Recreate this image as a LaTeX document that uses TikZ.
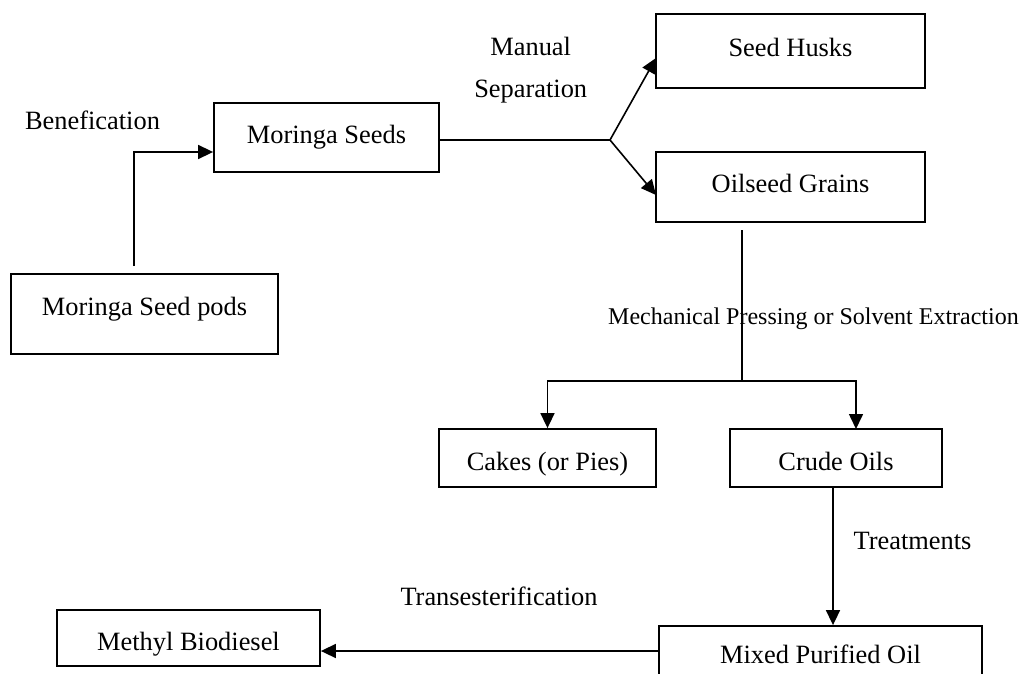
\documentclass[tikz,border=0pt]{standalone}
\usepackage{fontspec}
\setmainfont{Liberation Serif}
\usetikzlibrary{arrows.meta}
\begin{document}
\begin{tikzpicture}[x=1pt,y=-1pt,
  box/.style={draw, line width=1.8pt, inner sep=0pt, text height=18pt, text depth=6pt,
              font=\fontsize{26.4}{30}\selectfont},
  lowtext/.style={text height=30pt, text depth=6pt},
  hightext/.style={text height=18pt, text depth=16pt},
  lbl/.style={inner sep=0pt, anchor=base, font=\fontsize{26.4}{30}\selectfont},
  conn/.style={line width=1.6pt},
  arr/.style={conn, -{Triangle[length=15pt,width=14pt]}}]
\useasboundingbox (0,0) rectangle (1020,674);
\clip (0,0) rectangle (1020,674);

% boxes
\node[box, hightext, minimum width=267pt, minimum height=80pt] (pods) at (144.5,314) {Moringa Seed pods};
\node[box, minimum width=225pt, minimum height=69pt] (seeds) at (326.5,137.5) {Moringa Seeds};
\node[box, minimum width=269pt, minimum height=74pt] (husks) at (790.5,51) {Seed Husks};
\node[box, minimum width=269pt, minimum height=70pt] (grains) at (790.5,187) {Oilseed Grains};
\node[box, lowtext, minimum width=217pt, minimum height=58pt] (cakes) at (547.5,458) {Cakes (or Pies)};
\node[box, lowtext, minimum width=212pt, minimum height=58pt] (crude) at (836,458) {Crude Oils};
\node[box, minimum width=323pt, minimum height=62pt] (mixed) at (820.5,657) {Mixed Purified Oil};
\node[box, lowtext, minimum width=263pt, minimum height=56pt] (methyl) at (188.5,638) {Methyl Biodiesel};

% labels
\node[lbl] (benef) at (92.5,129.3) {Benefication};
\node[lbl] (sep1) at (530.7,56) {Manual};
\node[lbl] (sep2) at (530.7,97.7) {Separation};
\node[lbl, font=\fontsize{24}{28}\selectfont] (mech) at (813.5,324) {Mechanical Pressing or Solvent Extraction};
\node[lbl] (treat) at (912.5,549) {Treatments};
\node[lbl] (trans) at (499,605) {Transesterification};

% connector points
\coordinate (p0) at (134,266);
\coordinate (p1) at (134,152);
\coordinate (j1) at (610,140);
\coordinate (hin) at (656,58);
\coordinate (gin) at (656,195);
\coordinate (g0) at (742,230);
\coordinate (j2) at (742,381);
\coordinate (cin) at (856,429);
\coordinate (m0) at (659,651);

% connectors
\draw[arr] (p0) -- (p1) -- (seeds.west |- p1);
\draw[conn] (seeds.east |- j1) -- (j1);
\draw[arr] (j1) -- (hin);
\draw[arr] (j1) -- (gin);
\draw[conn] (g0) -- (j2);
\draw[arr] (j2) -| (cakes.north);
\draw[arr] (j2) -| (cin);
\draw[arr] ([xshift=-3pt]crude.south) -- ([xshift=-3pt]crude.south |- mixed.north);
\draw[arr] (m0) -- (methyl.east |- m0);
\end{tikzpicture}
\end{document}
